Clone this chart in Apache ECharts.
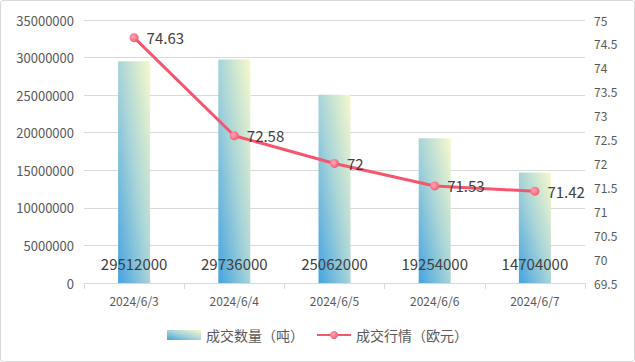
<!DOCTYPE html>
<html><head><meta charset="utf-8">
<script src="https://cdn.jsdelivr.net/npm/echarts@6/dist/echarts.min.js"></script>
<style>html,body{margin:0;padding:0;background:#fff}#c{width:633px;height:360px;border:1px solid #d9d9d9;border-radius:3px}</style>
</head><body><div id="c"></div>
<script>
const categories = ['2024/6/3','2024/6/4','2024/6/5','2024/6/6','2024/6/7'];
const volume = [29512000, 29736000, 25062000, 19254000, 14704000];
const price = [74.63, 72.58, 72, 71.53, 71.42];
const leftTicks = {min:0, max:35000000, interval:5000000};
const rightTicks = {min:69.5, max:75, interval:0.5};

const chart = echarts.init(document.getElementById('c'), null, {renderer:'svg'});
const font = '"Noto Sans CJK SC", "Microsoft YaHei", sans-serif';
const barGrad = new echarts.graphic.LinearGradient(0, 1, 1, 0, [
  {offset:0, color:'#45a3e0'},
  {offset:0.5, color:'#a8d4d8'},
  {offset:1, color:'#f7f9cc'}
]);
chart.setOption({
  animation:false,
  textStyle:{fontFamily:font},
  grid:{left:83, right:49, top:19, bottom:78},
  legend:{
    bottom:14, left:'center', itemGap:12, itemWidth:34, itemHeight:10,
    textStyle:{color:'#595959', fontSize:14, fontFamily:font},
    data:[{name:'成交数量（吨）', icon:'rect'},{name:'成交行情（欧元）'}]
  },
  xAxis:{
    type:'category', data:categories, boundaryGap:true,
    axisLine:{lineStyle:{color:'#d9d9d9'}},
    axisTick:{show:true, alignWithLabel:false, length:6, lineStyle:{color:'#d9d9d9'}},
    axisLabel:{color:'#595959', fontSize:12, margin:11, fontFamily:font}
  },
  yAxis:[{
    type:'value', min:leftTicks.min, max:leftTicks.max, interval:leftTicks.interval,
    axisLine:{show:false}, axisTick:{show:false},
    splitLine:{lineStyle:{color:'#d9d9d9'}},
    axisLabel:{color:'#595959', fontSize:13, margin:10, fontFamily:font, formatter:v => String(v)}
  },{
    type:'value', min:rightTicks.min, max:rightTicks.max, interval:rightTicks.interval,
    axisLine:{show:false}, axisTick:{show:false}, splitLine:{show:false},
    axisLabel:{color:'#595959', fontSize:12, margin:9, fontFamily:font, formatter:v => String(v)}
  }],
  series:[{
    name:'成交数量（吨）', type:'bar', data:volume, barWidth:32, yAxisIndex:0,
    itemStyle:{color:barGrad},
    label:{show:true, position:'insideBottom', distance:12, color:'#404040', fontSize:15, fontFamily:font}
  },{
    name:'成交行情（欧元）', type:'line', data:price, yAxisIndex:1,
    symbol:'circle', symbolSize:9,
    lineStyle:{color:'#f5566f', width:3},
    itemStyle:{color:new echarts.graphic.RadialGradient(0.4,0.4,0.7,[{offset:0,color:'#ffaab8'},{offset:1,color:'#f0506b'}])},
    label:{show:true, position:'right', distance:8, color:'#404040', fontSize:15, fontFamily:font}
  }]
});
</script></body></html>
